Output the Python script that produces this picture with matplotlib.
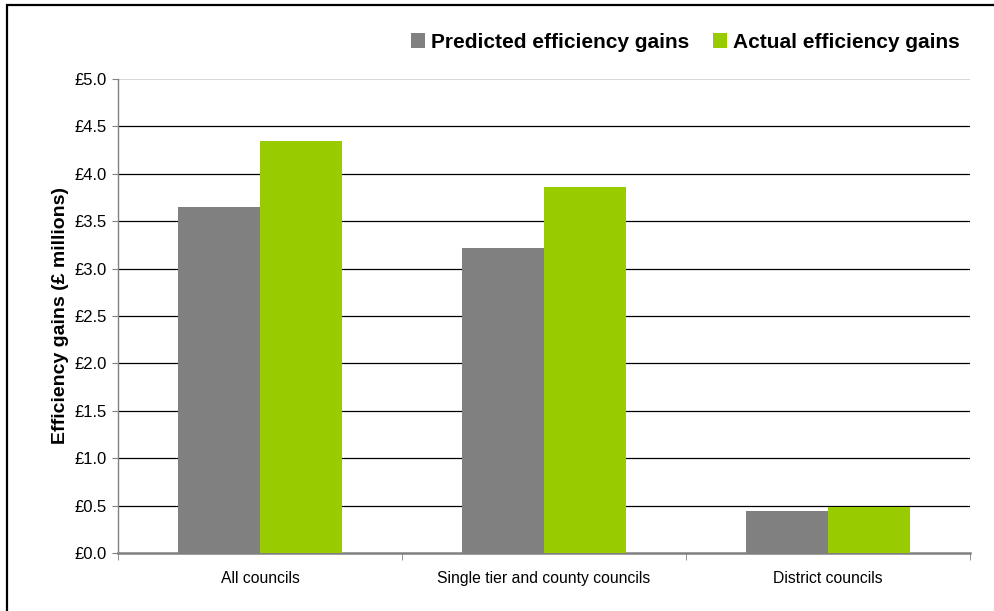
import matplotlib
matplotlib.use("Agg")
import matplotlib.pyplot as plt
import numpy as np
from matplotlib.patches import Rectangle

categories = ["All councils", "Single tier and county councils", "District councils"]
predicted = [3.65, 3.22, 0.44]
actual = [4.35, 3.86, 0.49]
series_names = ["Predicted efficiency gains", "Actual efficiency gains"]
yticks = [0.0, 0.5, 1.0, 1.5, 2.0, 2.5, 3.0, 3.5, 4.0, 4.5, 5.0]
ytick_labels = ["£%.1f" % v for v in yticks]

plt.rcParams['font.family'] = ['Liberation Sans', 'DejaVu Sans']

fig = plt.figure(figsize=(9.94, 6.11), dpi=100)
ax = fig.add_axes([118/994, 1-553/611, (970-118)/994, (553-79)/611])

x = np.arange(len(categories))
w = 0.29
gray = "#808080"
green = "#99cc00"
ax.bar(x - w/2, predicted, width=w, color=gray, label=series_names[0], zorder=3)
ax.bar(x + w/2, actual, width=w, color=green, label=series_names[1], zorder=3)

ax.set_xlim(-0.5, 2.5)
ax.set_ylim(0, 5.0)
ax.set_yticks(yticks)
ax.set_yticklabels(ytick_labels, fontsize=12)
for v in yticks[1:-1]:
    ax.axhline(v, color="#000000", lw=0.9, zorder=1)
ax.axhline(5.0, color="#d0d0d0", lw=1.2, zorder=1)

ax.set_xticks(x)
ax.set_xticklabels(categories, fontsize=11.3)
ax.tick_params(axis='x', length=0, pad=13)
ax.set_xticks([-0.5, 0.5, 1.5, 2.5], minor=True)
ax.tick_params(axis='x', which='minor', length=5, color=gray, direction='out')
ax.tick_params(axis='y', length=4, color=gray, direction='out', pad=4)

for s in ['top', 'right']:
    ax.spines[s].set_visible(False)
ax.spines['left'].set_color(gray)
ax.spines['bottom'].set_color(gray)
ax.spines['bottom'].set_linewidth(1.8)
ax.spines['left'].set_linewidth(1.0)

ax.set_ylabel("Efficiency gains (£ millions)", fontsize=14, fontweight='bold', labelpad=4)

leg = fig.legend(loc='center right', bbox_to_anchor=(979/994, 1-42/611), ncol=2,
                 frameon=False, prop={'weight': 'bold', 'size': 15},
                 handlelength=0.7, handleheight=0.7, handletextpad=0.3,
                 columnspacing=1.1)

fig.patches.append(Rectangle((7/994, -0.05), 1.2, 1 - 5/611 + 0.05, transform=fig.transFigure,
                             fill=False, edgecolor="#000000", lw=1.6, zorder=10))

fig.savefig("out.png", dpi=100)
